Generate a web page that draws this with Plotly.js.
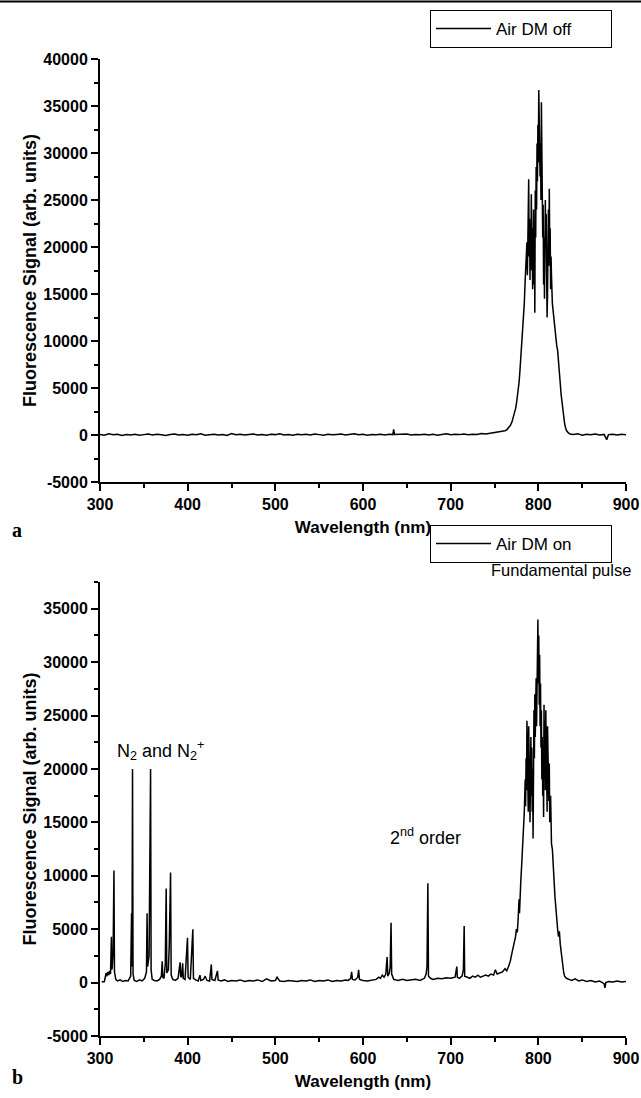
<!DOCTYPE html>
<html>
<head>
<meta charset="utf-8">
<script src="https://cdn.plot.ly/plotly-3.0.1.min.js"></script>
<style>html,body{margin:0;padding:0;background:#fff;}#chart{width:641px;height:1098px;}</style>
</head>
<body>
<div id="chart"></div>
<script>
// ---------- Panel a : Air, DM off ----------
const waveA = [
 300,305,310,315,320,325,330,335,340,345,
 350,355,360,365,370,375,380,385,390,395,
 400,405,410,415,420,425,430,435,440,445,
 450,455,460,465,470,475,480,485,490,495,
 500,505,510,515,520,525,530,535,540,545,
 550,555,560,565,570,575,580,585,590,595,
 600,605,610,615,620,625,630,634,635,636,
 640,645,650,655,660,665,670,675,680,685,
 690,695,700,705,710,715,720,725,730,735,
 740,745,750,755,760,762,764,766,768,770,
 772,774,775,776,777,778,779,780,781,782,
 783,784,785,786,787,787.5,788,788.5,789,789.5,
 790,790.5,791,791.5,792,792.5,793,793.5,794,794.5,
 795,795.5,796,796.5,797,797.5,798,798.5,799,799.5,
 800,800.5,801,801.5,802,802.5,803,803.5,804,804.5,
 805,805.5,806,806.5,807,807.5,808,808.5,809,809.5,
 810,810.5,811,811.5,812,812.5,813,813.5,814,814.5,
 815,816,817,818,819,820,821,822,823,824,
 825,826,827,828,829,830,831,832,834,836,
 840,845,850,855,860,865,870,875,878,880,
 885,890,895,900
];
const signalA = [
 50,-30,120,20,80,-40,60,10,90,-20,
 40,100,-10,70,30,-50,60,110,0,50,
 -30,80,20,130,-20,40,90,10,60,-40,
 150,30,70,-10,50,100,0,60,-30,80,
 40,120,10,60,-20,90,30,70,0,110,
 40,-30,80,20,60,100,-10,50,130,20,
 70,-20,60,30,90,0,80,40,600,50,
 70,20,100,-10,60,30,90,10,70,-30,
 50,120,20,80,40,110,30,90,60,150,
 100,180,220,300,420,450,550,750,1000,1400,
 2000,2800,3300,3900,4800,5600,6800,8200,9800,11000,
 12500,14000,16500,18000,20500,17000,22000,18500,27200,19000,
 23000,16500,21000,17500,25600,18000,22000,15500,20500,24000,
 16000,22000,13000,26000,21000,28500,24000,31000,27000,33000,
 29000,36700,30500,34000,27500,31000,25000,35400,26000,29000,
 21000,24500,16000,21000,14500,19000,25000,20000,23500,17000,
 12500,15000,19500,24000,18000,26200,20000,22000,15500,19000,
 17000,14000,13000,12000,11000,10500,9500,9000,7500,6500,
 5500,4300,3400,2500,1800,1200,800,500,250,100,
 50,120,-20,80,30,100,-10,60,-500,40,
 90,0,70,30
];

// ---------- Panel b : Air, DM on ----------
const waveB = [
 302,305,307,308,309,310,311,312,313,313.5,
 314,315,315.9,316.5,318,320,323,326,329,332,
 335,336,336.5,337.1,337.7,339,342,345,348,351,
 353,353.7,354.3,356,357.7,358.3,359.5,362,365,368,
 370,371,371.6,373,374.5,375.5,376.2,378,379,380.5,
 381.2,383,386,389,391.4,392,393,394.3,395,397,
 399.8,400.5,403,405.9,406.6,409,412,414,415,418,
 420,422,425,427,427.7,431,434,434.7,438,442,
 446,450,455,460,465,470,475,480,485,490,
 495,500,502,505,510,515,520,525,530,535,
 540,545,550,555,560,565,570,575,580,583,
 586,587,588,591,594,595,596,600,605,610,
 615,618,620,622,624,626,627.5,628.3,630,631,
 632,632.7,635,640,645,650,655,660,665,670,
 672,673,674,674.7,677,680,685,690,695,700,
 705,707,707.6,710,713,714.5,715.4,716,719,722,
 725,728,731,734,737,740,743,746,749,751,
 753,756,759,762,764,766,768,770,772,774,
 775,776,777,778,778.5,779,780,781,782,783,
 784,785,785.5,786,786.5,787,787.5,788,788.5,789,
 789.5,790,790.5,791,791.5,792,792.5,793,793.5,794,
 794.5,795,795.5,796,796.5,797,797.5,798,798.5,799,
 799.5,800,800.5,801,801.5,802,802.5,803,803.5,804,
 804.5,805,805.5,806,806.5,807,807.5,808,808.5,809,
 809.5,810,810.5,811,811.5,812,812.5,813,814,815,
 816,817,818,819,820,821,822,823,824,825,
 826,827,828,829,830,832,835,838,842,846,
 850,855,860,865,870,875,876,877,880,885,
 890,895,900
];
const signalB = [
 50,100,900,600,1000,700,1100,800,4300,1200,
 1500,3000,10500,1000,300,150,250,100,200,150,
 600,6500,1500,20000,800,200,100,250,150,400,
 1000,6500,1500,2500,20000,1200,300,200,150,300,
 600,2000,500,400,1800,8800,900,1200,3500,10300,
 700,300,200,400,1900,600,500,1800,400,300,
 4200,500,300,5000,400,250,150,700,200,300,
 600,200,150,1700,300,200,1100,250,150,250,
 100,200,150,250,100,200,150,250,100,350,
 150,200,500,150,100,200,150,100,200,150,
 250,100,200,150,250,100,200,150,250,200,
 400,1000,300,250,500,1200,300,200,150,250,
 300,500,400,700,500,800,2400,600,900,1500,
 5600,800,300,200,300,200,250,300,200,400,
 800,1500,9300,600,400,300,400,350,450,400,
 500,1500,500,400,600,1200,5300,600,500,400,
 600,500,700,500,600,700,600,800,700,1200,
 800,900,1000,1300,1100,1500,2000,2800,3500,4300,
 5000,4700,6000,7800,6500,8000,9500,11000,12500,14000,
 16000,19000,16500,21000,18000,24500,19000,22500,16000,24000,
 18500,21500,15000,19000,23000,17500,22000,16000,20000,13500,
 19500,25500,21000,27000,23000,26000,28500,24000,30500,27000,
 34000,28000,32500,26000,30700,24000,28000,22000,25500,19000,
 23000,17500,21500,15500,26000,20000,24500,18000,25500,21000,
 23000,16000,24000,19000,22500,17000,20500,15000,17500,13000,
 12500,10500,9500,8000,7000,5500,5000,4300,4800,3600,
 2800,2000,1400,900,600,400,300,200,350,150,
 250,100,200,50,150,-100,-500,0,100,50,
 150,50,100
];

const seriesNames = ['Air DM off', 'Air DM on'];
const xTicks = [300, 400, 500, 600, 700, 800, 900];
const yTicksA = [-5000, 0, 5000, 10000, 15000, 20000, 25000, 30000, 35000, 40000];
const yTicksB = [-5000, 0, 5000, 10000, 15000, 20000, 25000, 30000, 35000];
const xTitle = 'Wavelength (nm)';
const yTitle = 'Fluorescence Signal (arb. units)';
const notes = ['Fundamental pulse', 'N<sub>2</sub> and N<sub>2</sub><sup>+</sup>', '2<sup>nd</sup> order'];
const panelLabels = ['a', 'b'];

// ---------- layout helpers ----------
const H = 1098, W = 641;
const px = x => x / W;
const py = y => 1 - y / H;
const SANS = 'Liberation Sans, Arial, Helvetica, sans-serif';
const tickFont = {family: SANS, size: 16, color: '#000', weight: 'bold'};
const xTitleFont = {family: SANS, size: 17, color: '#000', weight: 'bold'};
const yTitleFont = {family: SANS, size: 18, color: '#000', weight: 'bold'};
const label = v => String(v);   // plain hyphen-minus, no thousands separator

function xAxis(anchor) {
  return {
    domain: [px(100), px(626)], range: [300, 900], anchor: anchor,
    showline: true, linecolor: '#000', linewidth: 2, mirror: false,
    ticks: 'outside', ticklen: 7, tickwidth: 2, tickcolor: '#000',
    tickmode: 'array', tickvals: xTicks, ticktext: xTicks.map(label), tickfont: tickFont,
    minor: {dtick: 50, tick0: 300, ticks: 'outside', ticklen: 4, tickwidth: 2, tickcolor: '#000', showgrid: false},
    showgrid: false, zeroline: false,
    title: {text: xTitle, font: xTitleFont, standoff: 9}
  };
}
function yAxis(anchor, dom, rng, ticks) {
  return {
    domain: dom, range: rng, anchor: anchor,
    showline: true, linecolor: '#000', linewidth: 2, mirror: false,
    ticks: 'outside', ticklen: 7, tickwidth: 2, tickcolor: '#000',
    tickmode: 'array', tickvals: ticks, ticktext: ticks.map(label), tickfont: tickFont,
    minor: {dtick: 2500, tick0: 0, ticks: 'outside', ticklen: 4, tickwidth: 2, tickcolor: '#000', showgrid: false},
    showgrid: false, zeroline: false,
    title: {text: yTitle, font: yTitleFont, standoff: 2}
  };
}

const traces = [
  {x: waveA, y: signalA, type: 'scatter', mode: 'lines', name: seriesNames[0],
   line: {color: '#000', width: 1.5}, xaxis: 'x', yaxis: 'y', legend: 'legend'},
  {x: waveB, y: signalB, type: 'scatter', mode: 'lines', name: seriesNames[1],
   line: {color: '#000', width: 1.5}, xaxis: 'x2', yaxis: 'y2', legend: 'legend2'}
];

const legendBase = {
  xanchor: 'right', yanchor: 'top', x: px(612),
  orientation: 'h', entrywidth: 110, entrywidthmode: 'pixels',
  bordercolor: '#000', borderwidth: 1, bgcolor: '#fff',
  itemwidth: 55,
  font: {family: SANS, size: 17, color: '#000'}
};

const annFont = {family: SANS, size: 18, color: '#000'};
const serifFont = {family: 'Liberation Serif, Times New Roman, serif', size: 20, color: '#000', weight: 'bold'};
function note(text, x, y, font) {
  return {text: text, xref: 'paper', yref: 'paper', x: px(x), y: py(y),
          xanchor: 'center', yanchor: 'middle', showarrow: false, font: font};
}

const layout = {
  width: W, height: H,
  margin: {l: 0, r: 0, t: 0, b: 0},
  paper_bgcolor: '#fff', plot_bgcolor: '#fff',
  showlegend: true,
  xaxis: xAxis('y'),
  yaxis: yAxis('x', [py(482), py(59)], [-5000, 40000], yTicksA),
  xaxis2: xAxis('y2'),
  yaxis2: yAxis('x2', [py(1036), py(582)], [-5000, 37500], yTicksB),
  legend: Object.assign({}, legendBase, {y: py(10)}),
  legend2: Object.assign({}, legendBase, {y: py(525)}),
  shapes: [
    {type: 'line', xref: 'paper', yref: 'paper', x0: 0, x1: 1, y0: py(1.5), y1: py(1.5),
     line: {color: '#000', width: 2}}
  ],
  annotations: [
    note(notes[0], 561, 570, Object.assign({}, annFont, {size: 16.5})),
    note(notes[1], 160, 751, annFont),
    note(notes[2], 425, 836, annFont),
    note(panelLabels[0], 17, 530, serifFont),
    note(panelLabels[1], 17, 1077, serifFont)
  ]
};

Plotly.newPlot('chart', traces, layout, {staticPlot: true, displayModeBar: false});
</script>
</body>
</html>
